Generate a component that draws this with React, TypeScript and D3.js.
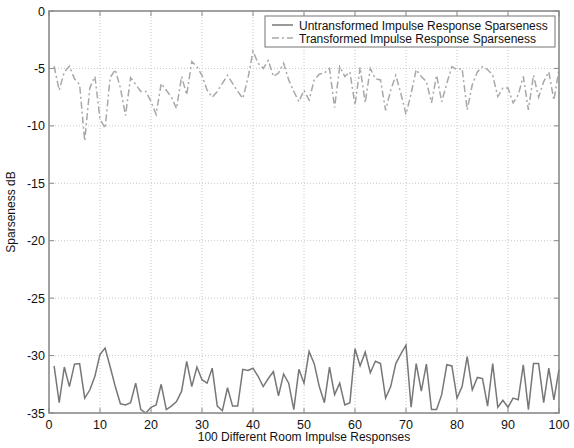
import React from "react";
import * as d3 from "d3";

const untransformed: number[] = [
  -30.9, -34.1, -31.0, -32.7, -30.75, -30.7, -33.7, -33.0, -31.8, -29.9,
  -29.35, -31.0, -32.7, -34.2, -34.3, -34.1, -32.4, -34.7, -35.0, -34.5,
  -34.3, -32.5, -34.7, -34.4, -34.0, -33.1, -30.5, -32.7, -31.0, -32.1,
  -32.4, -31.1, -34.4, -34.8, -32.8, -34.4, -34.4, -31.2, -31.3, -31.1,
  -31.8, -32.7, -32.0, -31.4, -33.5, -31.6, -32.4, -34.7, -31.2, -32.4,
  -29.65, -30.7, -32.7, -34.1, -31.0, -33.4, -32.4, -34.3, -34.1, -29.4,
  -30.9, -29.7, -31.5, -30.5, -30.7, -33.7, -32.7, -30.7, -29.85, -29.1,
  -34.5, -30.7, -33.1, -30.75, -34.7, -34.7, -33.4, -30.8, -30.9, -33.7,
  -32.7, -30.1, -33.0, -31.9, -32.0, -34.4, -30.7, -34.5, -33.9, -34.5,
  -33.7, -33.85, -30.8, -34.7, -30.7, -30.7, -34.1, -31.1, -33.85, -31.2,
];

const transformed: number[] = [
  -4.8, -6.9, -5.3, -4.8, -5.9, -6.4, -11.3, -6.7, -5.7, -9.4,
  -10.2, -5.8, -5.1, -6.7, -9.1, -5.8, -6.4, -7.0, -7.0, -7.9,
  -9.0, -6.3, -6.9, -7.5, -8.5, -5.7, -7.3, -4.4, -4.85, -5.6,
  -6.9, -7.5, -7.0, -6.3, -5.6, -6.3, -7.0, -7.6, -5.9, -3.5,
  -4.55, -5.0, -4.3, -5.7, -5.4, -4.55, -6.0, -7.0, -7.9, -6.9,
  -7.75, -6.0, -5.5, -5.4, -5.0, -8.4, -4.85, -5.7, -5.3, -8.2,
  -4.9, -8.0, -5.0, -5.9, -6.0, -8.65, -6.9, -5.6, -7.2, -9.0,
  -7.2, -5.1, -5.7, -6.15, -8.0, -5.6, -7.9, -6.3, -4.85, -5.1,
  -5.0, -8.6, -6.4, -5.3, -4.85, -5.1, -5.6, -7.45, -6.7, -6.7,
  -8.0, -7.3, -5.7, -8.6, -5.6, -7.5, -6.15, -5.3, -7.75, -5.1,
];

const xTicks: number[] = [0, 10, 20, 30, 40, 50, 60, 70, 80, 90, 100];
const yTicks: number[] = [0, -5, -10, -15, -20, -25, -30, -35];
const legendLabels: string[] = [
  "Untransformed Impulse Response Sparseness",
  "Transformed Impulse Response Sparseness",
];
const xLabel = "100 Different Room Impulse Responses";
const yLabel = "Sparseness dB";

export default function App() {
  const W = 574;
  const H = 448;
  const left = 49, right = 559, top = 11, bottom = 413;
  const x = d3.scaleLinear().domain([0, 100]).range([left, right]);
  const y = d3.scaleLinear().domain([-35, 0]).range([bottom, top]);
  const line = d3
    .line<number>()
    .x((_, i) => x(i + 1))
    .y((d) => y(d));
  const font = "'Liberation Sans', Arial, sans-serif";
  const axisColor = "#8a8a8a";
  const textColor = "#111";
  const tickLen = 5;

  return (
    <svg
      width={W}
      height={H}
      style={{ position: "absolute", left: 0, top: 0, background: "#fff" }}
      fontFamily={font}
    >
      <rect x={0} y={0} width={W} height={H} fill="#fff" />
      {xTicks.slice(1, -1).map((t) => (
        <line key={"gx" + t} x1={x(t)} x2={x(t)} y1={top} y2={bottom}
          stroke="#c8c8c8" strokeWidth={1} strokeDasharray="1,2" />
      ))}
      {yTicks.slice(1, -1).map((t) => (
        <line key={"gy" + t} x1={left} x2={right} y1={y(t)} y2={y(t)}
          stroke="#c8c8c8" strokeWidth={1} strokeDasharray="1,2" />
      ))}
      {xTicks.map((t) => (
        <g key={"tx" + t}>
          <line x1={x(t)} x2={x(t)} y1={bottom} y2={bottom - tickLen} stroke={axisColor} strokeWidth={1} />
          <line x1={x(t)} x2={x(t)} y1={top} y2={top + tickLen} stroke={axisColor} strokeWidth={1} />
          <text x={x(t)} y={428.5} textAnchor="middle" fontSize={12.5} fill={textColor}>{t}</text>
        </g>
      ))}
      {yTicks.map((t) => (
        <g key={"ty" + t}>
          <line x1={left} x2={left + tickLen} y1={y(t)} y2={y(t)} stroke={axisColor} strokeWidth={1} />
          <line x1={right} x2={right - tickLen} y1={y(t)} y2={y(t)} stroke={axisColor} strokeWidth={1} />
          <text x={left - 4} y={y(t) + 4.5} textAnchor="end" fontSize={12.5} fill={textColor}>{t}</text>
        </g>
      ))}
      <path d={line(transformed) || ""} fill="none" stroke="#a8a8a8" strokeWidth={1.5}
        strokeDasharray="7,3,2,3" />
      <path d={line(untransformed) || ""} fill="none" stroke="#777" strokeWidth={1.5} />
      <rect x={left} y={top} width={right - left} height={bottom - top} fill="none"
        stroke={axisColor} strokeWidth={1.6} />
      <rect x={265} y={16} width={290} height={31} fill="#fff" stroke={axisColor} strokeWidth={1.2} />
      <line x1={272} x2={293} y1={25} y2={25} stroke="#777" strokeWidth={1.5} />
      <line x1={272} x2={293} y1={38} y2={38} stroke="#a8a8a8" strokeWidth={1.5} strokeDasharray="7,3,2,3" />
      <text x={299} y={29.5} fontSize={12} fill={textColor}>{legendLabels[0]}</text>
      <text x={299} y={42.5} fontSize={12} fill={textColor}>{legendLabels[1]}</text>
      <text x={(left + right) / 2} y={441} textAnchor="middle" fontSize={12} fill={textColor}>{xLabel}</text>
      <text transform={`translate(15, ${(top + bottom) / 2}) rotate(-90)`} textAnchor="middle"
        fontSize={12} fill={textColor}>{yLabel}</text>
    </svg>
  );
}
